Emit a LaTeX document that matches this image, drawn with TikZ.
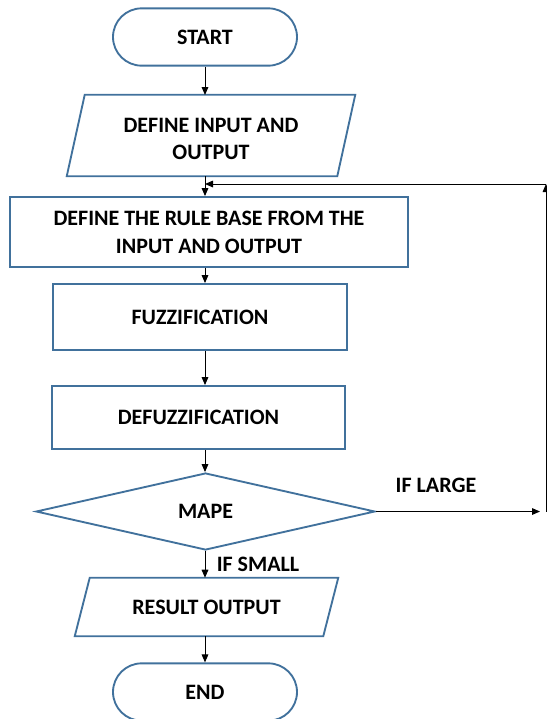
\documentclass[tikz,border=0pt]{standalone}
\usepackage{fontspec}
\setmainfont{Carlito}
\usetikzlibrary{shapes.misc,shapes.geometric,arrows.meta,calc}
\definecolor{edgeblue}{RGB}{65,113,156}
\begin{document}
\begin{tikzpicture}[x=0.75pt,y=-0.75pt,
  txt/.style={font=\bfseries\fontsize{16.5}{20.5}\selectfont, align=center, inner sep=0pt},
  blueline/.style={draw=edgeblue, line width=1.4pt, line join=miter},
  term/.style={txt, blueline, rounded rectangle, minimum width=138pt, minimum height=43pt},
  procbox/.style={txt, blueline, rectangle},
  plain/.style={txt, rectangle},
  decision/.style={txt, blueline, diamond, aspect=4.4, inner sep=0pt},
  arr/.style={-{Triangle[length=6pt,width=5pt]}, line width=0.75pt, black},
  lbl/.style={font=\bfseries\fontsize{16.5}{17}\selectfont, inner sep=0pt}
]
\useasboundingbox (0,0) rectangle (547,719);

\node[term] (start) at (205,37) {START};

\node[plain, minimum width=202.5pt, minimum height=60.75pt] (inp) at (211,139) {DEFINE INPUT AND\\OUTPUT};
\draw[blueline] ($(inp.south west)+(-9,-3.5)$) -- ($(inp.north west)+(9,-3.5)$) -- ($(inp.north east)+(9,-3.5)$) -- ($(inp.south east)+(-9,-3.5)$) -- cycle;

\node[procbox, minimum width=298.5pt, minimum height=52.5pt, font=\bfseries\fontsize{16.5}{21}\selectfont] (rule) at (209,232) {DEFINE THE RULE BASE FROM THE\\INPUT AND OUTPUT};

\node[procbox, minimum width=220.5pt, minimum height=49.5pt] (fuzz) at (200,317) {FUZZIFICATION};

\node[procbox, minimum width=219.75pt, minimum height=47.25pt] (defuzz) at (198.5,417.5) {DEFUZZIFICATION};

\node[decision, minimum width=254.25pt, minimum height=57.75pt] (mape) at (205.5,511.5) {MAPE};

\node[plain, minimum width=186pt, minimum height=43.5pt] (res) at (206.5,607) {RESULT OUTPUT};
\draw[blueline] ($(res.south west)+(-7.5,0)$) -- ($(res.north west)+(7.5,0)$) -- ($(res.north east)+(7.5,0)$) -- ($(res.south east)+(-7.5,0)$) -- cycle;

\node[term] (end) at (205,692) {END};

% main flow
\draw[arr] (start.south) -- (205,95);
\draw[arr] (205,176) -- (start.south |- rule.north);
\draw[arr] (start.south |- rule.south) -- (start.south |- fuzz.north);
\draw[arr] (start.south |- fuzz.south) -- (start.south |- defuzz.north);
\draw[arr] (start.south |- defuzz.south) -- (mape.north -| start.south);
\draw[arr] (mape.south -| start.south) -- (start.south |- res.north);
\draw[arr] (start.south |- res.south) -- (end.north);

% feedback loop
\coordinate (fb) at (205,184);
\coordinate (rtop) at (546,184);
\coordinate (rbot) at (546,511.5);
\coordinate (rend) at (540,511.5);
\draw[arr] (mape.east) -- (rend);
\draw[arr] (rbot) -- (rtop);
\draw[arr] (rtop) -- (fb);

\node[lbl] (large) at (436,485) {IF LARGE};
\node[lbl] (small) at (258,564) {IF SMALL};
\end{tikzpicture}
\end{document}
